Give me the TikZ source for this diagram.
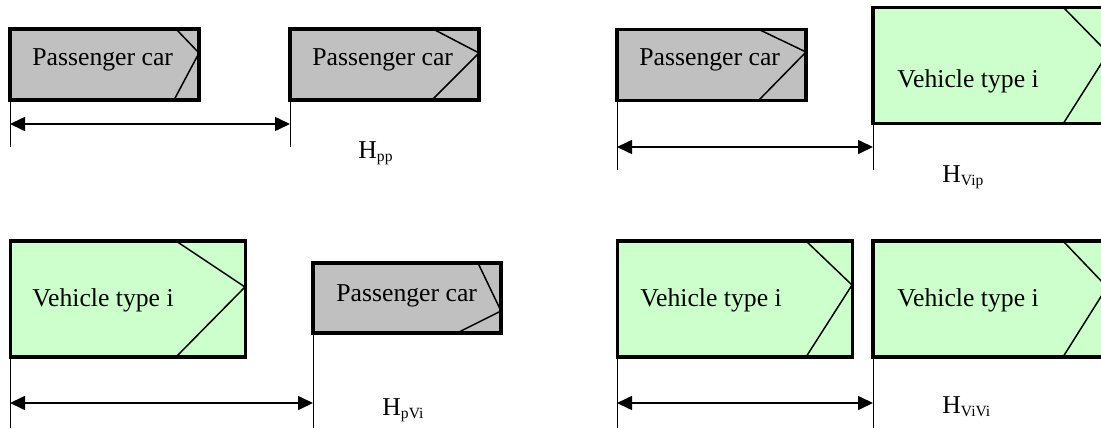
\documentclass[tikz,border=0pt]{standalone}
\usepackage{fontspec}
\setmainfont{Liberation Serif}
\usetikzlibrary{arrows.meta}
\definecolor{pcgray}{RGB}{192,192,192}
\definecolor{vtgreen}{RGB}{204,255,204}
\tikzstyle{Vpc}=[draw,line width=1.75pt,fill=pcgray,minimum width=94.5pt,minimum height=35.5pt,inner sep=0]
\tikzstyle{Vtype}=[draw,line width=1.75pt,fill=vtgreen,minimum width=117.5pt,minimum height=58pt,inner sep=0]
\tikzstyle{Vnose}=[line width=0.75pt]
\tikzstyle{Vtxt}=[anchor=base west,inner sep=0,font=\fontsize{12.85}{15}\selectfont]
\tikzstyle{Vtick}=[line width=0.5pt]
\tikzstyle{Vdim}=[every edge/.style={draw,line width=0.8pt,{Triangle[length=7.5pt,width=7pt]}-{Triangle[length=7.5pt,width=7pt]}}]
\newcommand{\Hsub}[1]{H\raisebox{-1.7pt}{\fontsize{7.8}{9}\selectfont #1}}

\begin{document}
\begin{tikzpicture}[x=0.5pt,y=-0.5pt]
\useasboundingbox (0,0) rectangle (1101,428);
\clip (0,0) rectangle (1101,428);

% top left: car behind car
\node[Vpc] (pc1) at (104.5,64.5) {};
\draw[Vnose] (176,29) -- (199,53) -- (174,100);
\node[Vtxt] (pc1t) at (32,65) {Passenger car};
\node[Vpc] (pc2) at (384.5,64.5) {};
\draw[Vnose] (433,29) -- (479,53) -- (432,100);
\node[Vtxt] (pc2t) at (312,65) {Passenger car};

% top right: car behind vehicle
\node[Vpc] (pc3) at (711.5,65) {};
\draw[Vnose] (760,30) -- (806,52) -- (759,100);
\node[Vtxt] (pc3t) at (639,65) {Passenger car};
\node[Vtype] (vt1) at (990.5,65.5) {};
\draw[Vnose] (1063,7) -- (1108,53) -- (1063,124);
\node[Vtxt] (vt1t) at (897,87) {Vehicle type i};

% bottom left: vehicle behind car
\node[Vtype] (vt2) at (128,299) {};
\draw[Vnose] (176,241) -- (245,287) -- (176,357);
\node[Vtxt] (vt2t) at (32,306) {Vehicle type i};
\node[Vpc,minimum width=94pt,minimum height=35pt] (pc4) at (407,298) {};
\draw[Vnose] (478,263) -- (501,311) -- (457,333);
\node[Vtxt] (pc4t) at (336,301) {Passenger car};

% bottom right: vehicle behind vehicle
\node[Vtype] (vt3) at (735,299) {};
\draw[Vnose] (806,241) -- (852,285) -- (806,357);
\node[Vtxt] (vt3t) at (640,306) {Vehicle type i};
\node[Vtype] (vt4) at (990.5,299) {};
\draw[Vnose] (1063,241) -- (1107,287) -- (1063,357);
\node[Vtxt] (vt4t) at (897,306) {Vehicle type i};

% ticks
\coordinate (t1a) at (10,100);  \coordinate (t1b) at (10,147);
\coordinate (t2a) at (290,100); \coordinate (t2b) at (290,147);
\coordinate (t3a) at (617,100); \coordinate (t3b) at (617,170);
\coordinate (t4a) at (873,124); \coordinate (t4b) at (873,170);
\coordinate (t5a) at (10,357);  \coordinate (t5b) at (10,428);
\coordinate (t6a) at (313,333); \coordinate (t6b) at (313,428);
\coordinate (t7a) at (617,357); \coordinate (t7b) at (617,428);
\coordinate (t8a) at (873,357); \coordinate (t8b) at (873,428);
\draw[Vtick] (t1a) -- (t1b) (t2a) -- (t2b) (t3a) -- (t3b) (t4a) -- (t4b)
  (t5a) -- (t5b) (t6a) -- (t6b) (t7a) -- (t7b) (t8a) -- (t8b);

% headways
\coordinate (d1l) at (10,124);  \coordinate (d1r) at (290,124);
\coordinate (d2l) at (617,147); \coordinate (d2r) at (873,147);
\coordinate (d3l) at (10,403);  \coordinate (d3r) at (313,403);
\coordinate (d4l) at (617,403); \coordinate (d4r) at (873,403);
\path[Vdim]
 (d1l) edge (d1r)
 (d2l) edge (d2r)
 (d3l) edge (d3r)
 (d4l) edge (d4r)
;

\node[Vtxt] (hpp) at (358,158) {\Hsub{pp}};
\node[Vtxt] (hvip) at (942,182) {\Hsub{Vip}};
\node[Vtxt] (hpvi) at (382,415) {\Hsub{pVi}};
\node[Vtxt] (hvivi) at (942,413) {\Hsub{ViVi}};

\end{tikzpicture}
\end{document}
